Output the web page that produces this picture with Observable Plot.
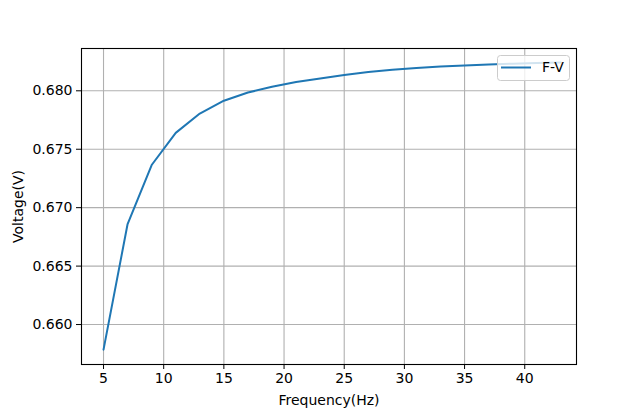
<!DOCTYPE html>
<html>
<head>
<meta charset="utf-8">
<script src="https://cdn.jsdelivr.net/npm/d3@7"></script>
<script src="https://cdn.jsdelivr.net/npm/@observablehq/plot@0.6"></script>
<style>
  html, body { margin: 0; padding: 0; background: #fff; }
  #chart { position: relative; width: 640px; height: 409px; }
</style>
</head>
<body>
<div id="chart"></div>
<script>
const frequency = [5, 7, 9, 11, 13, 15, 17, 19, 21, 23, 25, 27, 29, 31, 33, 35, 37, 39, 41, 43];
const voltage = [0.65785, 0.66860, 0.67365, 0.67640, 0.67805, 0.67915, 0.67985, 0.68035, 0.68075, 0.68105,
                 0.68135, 0.68160, 0.68180, 0.68195, 0.68207, 0.68217, 0.68225, 0.68232, 0.68238, 0.68243];
const xTicks = [5, 10, 15, 20, 25, 30, 35, 40];
const yTicks = [0.660, 0.665, 0.670, 0.675, 0.680];
const seriesName = "F-V";
const xLabel = "Frequency(Hz)";
const yLabel = "Voltage(V)";

const data = frequency.map((f, i) => ({f, v: voltage[i]}));

const font = "DejaVu Sans, sans-serif";
const plot = Plot.plot({
  width: 640,
  height: 409,
  marginLeft: 81,
  marginRight: 64,
  marginTop: 48,
  marginBottom: 45,
  style: {fontFamily: font, fontSize: "14px", color: "black", background: "white"},
  x: {domain: [3.17, 44.3]},
  y: {domain: [0.65658, 0.68362]},
  marks: [
    Plot.gridX(xTicks, {stroke: "#b0b0b0", strokeOpacity: 1, strokeWidth: 1.1}),
    Plot.gridY(yTicks, {stroke: "#b0b0b0", strokeOpacity: 1, strokeWidth: 1.1}),
    Plot.line(data, {x: "f", y: "v", stroke: "#1f77b4", strokeWidth: 2}),
    Plot.frame({stroke: "black", strokeWidth: 1.1}),
    Plot.axisX(xTicks, {tickSize: 5, tickPadding: 4, tickFormat: d3.format("d"), fontSize: 14,
      label: xLabel, labelAnchor: "center", labelArrow: "none", labelOffset: 40}),
    Plot.axisY(yTicks, {tickSize: 5, tickPadding: 4, tickFormat: d3.format(".3f"), fontSize: 14,
      label: yLabel, labelAnchor: "center", labelArrow: "none", labelOffset: 68})
  ]
});
document.getElementById("chart").appendChild(plot);

// legend (matplotlib-style, upper right)
const svg = d3.select(plot);
const lg = svg.append("g");
lg.append("rect").attr("x", 497.5).attr("y", 55.5).attr("width", 72).attr("height", 25)
  .attr("rx", 3).attr("fill", "white").attr("fill-opacity", 0.8)
  .attr("stroke", "#cccccc").attr("stroke-width", 1);
lg.append("line").attr("x1", 501).attr("x2", 531).attr("y1", 67.5).attr("y2", 67.5)
  .attr("stroke", "#1f77b4").attr("stroke-width", 2);
lg.append("text").attr("x", 542).attr("y", 67.5).attr("dy", "0.35em")
  .attr("text-anchor", "start")
  .attr("font-family", font).attr("font-size", 14).attr("fill", "black").text(seriesName);
</script>
</body>
</html>
